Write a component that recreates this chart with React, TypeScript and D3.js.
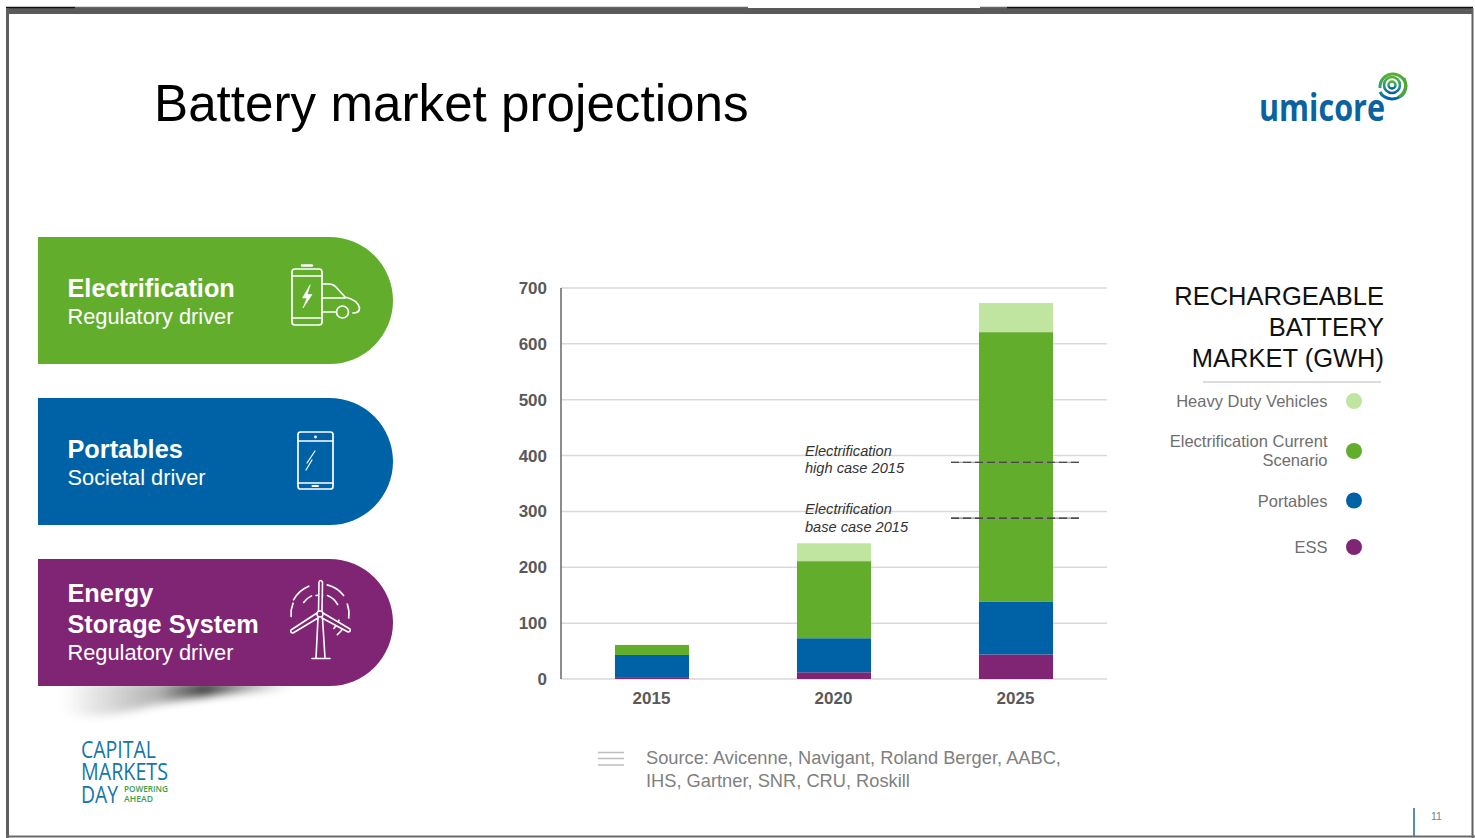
import React from "react";
import * as d3 from "d3";

// Market size in GWh per segment and year
const years = ["2015", "2020", "2025"];
const essValues = [2, 12, 44];
const portableValues = [41, 61, 94];
const electrificationValues = [18, 138, 483];
const heavyDutyValues = [0, 32, 52];
const yTicks = [0, 100, 200, 300, 400, 500, 600, 700];
const caseLevels = [388, 288];

const seriesKeys = ["ess", "portables", "electrification", "heavy"];
const seriesColors = ["#7f2574", "#0062a6", "#63ad2d", "#bfe5a0"];

const legendRows = [
  { lines: ["Heavy Duty Vehicles"], color: "#bfe5a0", y: 401, textY: 407 },
  { lines: ["Electrification Current"], color: "#63ad2d", y: 451, textY: 447 },
  { lines: ["Portables"], color: "#0062a6", y: 500.5, textY: 507 },
  { lines: ["ESS"], color: "#7f2574", y: 547, textY: 553 },
];

const driverCards = [
  { y: 237, color: "#63ad2d", bold: ["Electrification"], sub: "Regulatory driver", textY: 297 },
  { y: 398, color: "#0062a6", bold: ["Portables"], sub: "Societal driver", textY: 458 },
  { y: 559, color: "#7f2574", bold: ["Energy", "Storage System"], sub: "Regulatory driver", textY: 602 },
];

const SANS = "'Liberation Sans', Arial, sans-serif";

const y = d3.scaleLinear().domain([0, 700]).range([679, 288]);
const x = d3.scaleBand().domain(years).range([561, 1107]).paddingInner(0.593).paddingOuter(0.2965);

const stackedRows = years.map((year, i) => ({
  year,
  ess: essValues[i],
  portables: portableValues[i],
  electrification: electrificationValues[i],
  heavy: heavyDutyValues[i],
}));
const stacks = d3.stack().keys(seriesKeys)(stackedRows as any);

function cardPath(top: number) {
  const p = d3.path();
  const h = 127;
  const r = 63.5;
  p.moveTo(38, top);
  p.lineTo(393 - r, top);
  p.arc(393 - r, top + r, r, -Math.PI / 2, Math.PI / 2);
  p.lineTo(38, top + h);
  p.closePath();
  return p.toString();
}

// Short arc segments around the turbine hub, angles in degrees clockwise from north
const windArcs = [
  [-62, -22, 30], [-55, -25, 20], [-12, 8, 19], [-95, -68, 29],
  [14, 52, 30], [22, 62, 20], [70, 98, 29], [108, 136, 20], [122, 140, 27],
];
function arcPath(cx: number, cy: number, a0: number, a1: number, r: number) {
  const p = d3.path();
  const s = ((a0 - 90) * Math.PI) / 180;
  const e = ((a1 - 90) * Math.PI) / 180;
  p.moveTo(cx + r * Math.cos(s), cy + r * Math.sin(s));
  p.arc(cx, cy, r, s, e);
  return p.toString();
}

function BatteryCarIcon() {
  return (
    <g fill="none" stroke="#fff" strokeWidth={1.7} strokeLinecap="round" strokeLinejoin="round">
      <rect x={292} y={269} width={30} height={56} rx={3} />
      <path d="M302 265.5H312" strokeWidth={2.4} />
      <path d="M292 276H322M292 318H322" />
      <path d="M310 285L302.500 298H307L303 308L312 294.500H307.500Z" fill="#fff" strokeWidth={0.6} />
      <path d="M322 284H329Q333 284 336 287L345 297Q358 300 359.500 308Q359.500 313 353 313" />
      <path d="M322 298H345M322 312H335.500" />
      <circle cx={342.500} cy={312} r={6} />
    </g>
  );
}

function PhoneIcon() {
  return (
    <g fill="none" stroke="#fff" strokeWidth={1.7} strokeLinecap="round">
      <rect x={298} y={432} width={35} height={57} rx={2.5} />
      <path d="M298 441H333M298 483H333" />
      <path d="M312.500 486H318" strokeWidth={2} />
      <circle cx={315.500} cy={437} r={0.6} />
      <path d="M315 451L307 463M312 460L306 470" strokeWidth={1.2} />
    </g>
  );
}

function TurbineIcon() {
  const cx = 320;
  const cy = 614;
  return (
    <g fill="none" stroke="#fff" strokeLinecap="round" strokeLinejoin="round">
      {windArcs.map(([a, b, r], i) => (
        <path key={i} d={arcPath(cx, cy, a, b, r)} strokeWidth={1.6} />
      ))}
      <path d="M318.500 611L319 582Q320.500 579 322.500 582L322 611" strokeWidth={1.6} fill="#7f2574" />
      <path d="M317 613L291 630Q290 633 293 633L318 618" strokeWidth={1.6} fill="#7f2574" />
      <path d="M323 613L350 629Q351 632 348 632L322 618" strokeWidth={1.6} fill="#7f2574" />
      <path d="M318 618L316 658M322.500 618L325 658M312 658.500H330" strokeWidth={1.6} />
      <circle cx={cx} cy={cy} r={3} strokeWidth={1.5} fill="#7f2574" />
    </g>
  );
}

function UmicoreMark() {
  return (
    <g fill="none" stroke="url(#markGradient)">
      <path d="M1380 88A13 13 0 1 1 1406 86Q1405 98 1392 99Q1383 98 1380 92" strokeWidth={3} />
      <circle cx={1392} cy={85} r={8} strokeWidth={2.6} />
      <circle cx={1392} cy={85} r={3.5} strokeWidth={2.4} />
      <path d="M1404 78Q1409 90 1399 97" stroke="#4ea72e" strokeWidth={3} />
    </g>
  );
}

export default function App() {
  return (
    <svg
      width={1475}
      height={838}
      viewBox="0 0 1475 838"
      style={{ position: "absolute", left: 0, top: 0, display: "block", background: "#fff" }}
      fontFamily={SANS}
    >
      <defs>
        <linearGradient id="markGradient" x1="0" y1="0" x2="0" y2="1">
          <stop offset="0" stopColor="#58b030" />
          <stop offset="0.55" stopColor="#2b9a83" />
          <stop offset="1" stopColor="#0062a6" />
        </linearGradient>
        <linearGradient id="shadowFade" x1="0" y1="0" x2="1" y2="0">
          <stop offset="0" stopColor="#000" stopOpacity={0} />
          <stop offset="0.42" stopColor="#000" stopOpacity={0.3} />
          <stop offset="0.62" stopColor="#000" stopOpacity={0.75} />
          <stop offset="1" stopColor="#000" stopOpacity={0} />
        </linearGradient>
        <filter id="softShadow" x="-20%" y="-100%" width="140%" height="300%">
          <feGaussianBlur stdDeviation="4" />
        </filter>
      </defs>

      {/* Window frame */}
      <rect x={0} y={0} width={1475} height={838} fill="#fff" />
      <path d="M6 11H1473" stroke="#5a5a5a" strokeWidth={6} />
      <path d="M75 7.500H748M980 7.500H1007" stroke="#666" strokeWidth={1.5} />
      <path d="M6 7.500H75M1007 7.500H1473" stroke="#111" strokeWidth={1.6} />
      <path d="M7.500 8V838" stroke="#5f5f5f" strokeWidth={3} />
      <path d="M1472.500 8V838" stroke="#5f5f5f" strokeWidth={2} />
      <path d="M6 836.500H1475" stroke="#6a6a6a" strokeWidth={2} />

      <text x={154} y={121} fontSize={51.2} fill="#000">Battery market projections</text>

      {/* Company logo */}
      <text x={1259} y={121} fontFamily="'Open Sans', sans-serif" fontWeight={700} fontSize={37} fill="#0a639e" textLength={126} lengthAdjust="spacingAndGlyphs">umicore</text>
      <UmicoreMark />

      {/* Driver cards */}
      <path d="M62 682H292V688Q205 694 150 706Q100 720 62 714Z" fill="url(#shadowFade)" filter="url(#softShadow)" />
      {driverCards.map((card) => (
        <g key={card.y}>
          <path d={cardPath(card.y)} fill={card.color} />
          {card.bold.map((line, i) => (
            <text key={line} x={67.500} y={card.textY + i * 31} fontSize={25.300} fontWeight={700} fill="#fff">{line}</text>
          ))}
          <text x={67.500} y={card.textY + (card.bold.length - 1) * 31 + 27} fontSize={21.800} fill="#fff">{card.sub}</text>
        </g>
      ))}
      <BatteryCarIcon />
      <PhoneIcon />
      <TurbineIcon />

      {/* Event badge */}
      <g fill="#1577a8" fontFamily="'Open Sans', sans-serif">
        <text x={81} y={758} fontSize={23} textLength={75} lengthAdjust="spacingAndGlyphs">CAPITAL</text>
        <text x={81} y={780} fontSize={23} textLength={87} lengthAdjust="spacingAndGlyphs">MARKETS</text>
        <text x={81} y={803} fontSize={23} textLength={37} lengthAdjust="spacingAndGlyphs">DAY</text>
      </g>
      <g fill="#3e9e4a" fontFamily="'Open Sans', sans-serif" fontWeight={600}>
        <text x={124} y={792} fontSize={8.500} textLength={44} lengthAdjust="spacingAndGlyphs">POWERING</text>
        <text x={124} y={802} fontSize={8.500} textLength={29} lengthAdjust="spacingAndGlyphs">AHEAD</text>
      </g>

      {/* Gridlines and axis */}
      {yTicks.map((t) => (
        <g key={t}>
          <line x1={561} x2={1107} y1={y(t)} y2={y(t)} stroke="#d9d9d9" strokeWidth={1.5} />
          <text x={547} y={y(t) + 6} textAnchor="end" fontSize={17} fontWeight={700} fill="#595959">{t}</text>
        </g>
      ))}
      <line x1={561} x2={561} y1={y(700)} y2={y(0)} stroke="#666" strokeWidth={1.500} />

      {/* Stacked bars */}
      {stacks.map((layer, i) => (
        <g key={layer.key} fill={seriesColors[i]}>
          {layer.map((d: any) => (
            <rect key={d.data.year} x={x(d.data.year)} width={x.bandwidth()} y={y(d[1])} height={y(d[0]) - y(d[1])} />
          ))}
        </g>
      ))}
      {years.map((year) => (
        <text key={year} x={x(year)! + x.bandwidth() / 2 - 0.5} y={704} textAnchor="middle" fontSize={17} fontWeight={700} fill="#595959">{year}</text>
      ))}

      {/* 2015 electrification case markers on the 2025 bar */}
      {caseLevels.map((level) => (
        <g key={level}>
          <line x1={951} x2={1079} y1={y(level)} y2={y(level)} stroke="#8a8a8a" strokeWidth={1.2} />
          <line x1={951} x2={1079} y1={y(level)} y2={y(level)} stroke="#333" strokeWidth={1.2} strokeDasharray="8 4" />
        </g>
      ))}
      <g fontSize={14.600} fontStyle="italic" fill="#333">
        <text x={805} y={456}>Electrification</text>
        <text x={805} y={473}>high case 2015</text>
        <text x={805} y={514}>Electrification</text>
        <text x={805} y={532}>base case 2015</text>
      </g>

      {/* Legend */}
      <g fontSize={25.500} fill="#111" textAnchor="end">
        <text x={1384} y={305}>RECHARGEABLE</text>
        <text x={1384} y={336}>BATTERY</text>
        <text x={1384} y={367}>MARKET (GWH)</text>
      </g>
      <line x1={1203} x2={1381} y1={382} y2={382} stroke="#d0d0d0" strokeWidth={1.5} />
      {legendRows.map((row) => (
        <g key={row.y}>
          <circle cx={1354} cy={row.y} r={8} fill={row.color} />
          {row.lines.map((line) => (
            <text key={line} x={1327.500} y={row.textY} textAnchor="end" fontSize={16.500} fill="#6e6e6e">{line}</text>
          ))}
        </g>
      ))}
      <text x={1327.500} y={466} textAnchor="end" fontSize={16.500} fill="#6e6e6e">Scenario</text>

      {/* Source note */}
      <path d="M598 752.500H624M598 758.500H624M598 765H624" stroke="#bdbdbd" strokeWidth={1.6} />
      <g fontSize={18.270} fill="#808080">
        <text x={646} y={764}>Source: Avicenne, Navigant, Roland Berger, AABC,</text>
        <text x={646} y={787}>IHS, Gartner, SNR, CRU, Roskill</text>
      </g>

      {/* Page number */}
      <line x1={1414} x2={1414} y1={808} y2={836} stroke="#1a6aa8" strokeWidth={1.5} />
      <text x={1431} y={820} fontSize={10.500} fill="#808080">11</text>
    </svg>
  );
}
